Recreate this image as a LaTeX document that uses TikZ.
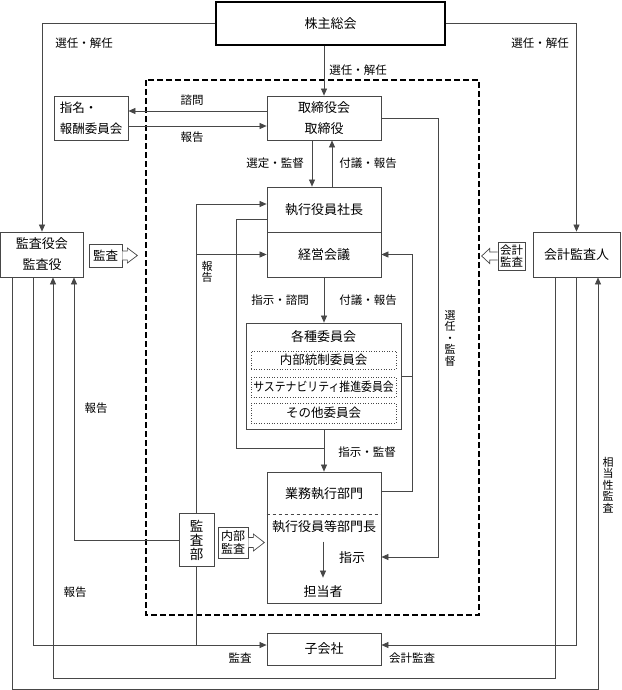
\documentclass[tikz,border=0pt]{standalone}
\usepackage{fontspec}
\usepackage{graphicx}
\setmainfont{Noto Sans CJK JP}
\usetikzlibrary{arrows.meta,calc}
\newcommand\bxfont{\fontsize{13}{21}\selectfont}
\newcommand\lbfont{\fontsize{11.5}{14}\selectfont}
\newcommand\smfont{\fontsize{11.5}{12.5}\selectfont}
\newcommand\vtfont{\fontsize{11}{11.5}\selectfont}
\begin{document}
\begin{tikzpicture}[x=1pt,y=-1pt,
  ln/.style={draw=black!72, line width=0.7pt},
  arr/.style={ln, -{Triangle[length=7pt,width=6pt]}},
  box/.style={draw=black!72, line width=0.8pt, inner sep=0pt, align=center, font=\bxfont},
  sbox/.style={draw=black!72, line width=0.7pt, inner sep=0pt, align=center, font=\smfont},
  dbox/.style={draw=black!72, line width=0.6pt, dotted, inner sep=0pt, font=\fontsize{12.5}{13}\selectfont},
  lbl/.style={inner sep=0pt, font=\lbfont},
  vlbl/.style={inner sep=0pt, align=center, font=\vtfont},
  blk/.style={draw=black!72, line width=0.7pt, fill=white},
]
\useasboundingbox (0,0) rectangle (621,690);
\fill[white] (0,0) rectangle (621,690);

% dashed frame
\draw[line width=1.2pt, dash pattern=on 6pt off 3pt] (146,80) rectangle (479,615);

% nodes
\node[box, draw=black, line width=1.3pt, minimum width=229pt, minimum height=43pt] (agm) at (330.5,23.5) {株主総会};
\node[box, align=left, minimum width=74pt, minimum height=44pt, font=\fontsize{12.5}{21}\selectfont] (nom) at (91,118) {指名・\\報酬委員会};
\node[box, minimum width=114pt, minimum height=44pt] (board) at (324,118) {取締役会\\取締役};
\node[box, minimum width=114pt, minimum height=45pt] (pres) at (324,209.5) {執行役員社長};
\node[box, minimum width=114pt, minimum height=45pt] (mgmt) at (324,254.5) {経営会議};
\node[box, minimum width=155pt, minimum height=106pt] (comm) at (323.5,376) {};
\node[inner sep=0pt, font=\bxfont] (commt) at (323.5,337) {各種委員会};
\node[dbox, minimum width=145pt, minimum height=18pt] (c1) at (323.5,360) {内部統制委員会};
\node[dbox, minimum width=145pt, minimum height=20pt] (c2) at (323.5,387) {\scalebox{0.87}[1]{サステナビリティ推進委員会}};
\node[dbox, minimum width=145pt, minimum height=20pt] (c3) at (323.5,413) {その他委員会};
\node[box, minimum width=114pt, minimum height=131pt] (biz) at (324,537.5) {};
\node[inner sep=0pt, font=\bxfont] (bt1) at (324,494) {業務執行部門};
\node[inner sep=0pt, font=\bxfont] (bt2) at (324,527) {執行役員等部門長};
\node[inner sep=0pt, font=\bxfont] (bt3) at (352,558) {指示};
\node[inner sep=0pt, font=\bxfont] (bt4) at (323,592) {担当者};
\node[box, minimum width=114pt, minimum height=32pt] (sub) at (324,649) {子会社};
\node[box, minimum width=83pt, minimum height=45pt] (kansa) at (42,254.5) {監査役会\\監査役};
\node[box, minimum width=87pt, minimum height=45pt] (auditor) at (576.5,254.5) {会計監査人};
\node[box, font=\fontsize{13.5}{14}\selectfont, minimum width=35pt, minimum height=53pt] (iad) at (196.5,540) {監\\査\\部};

% small boxes with block arrows
\node[sbox, font=\fontsize{12.5}{13}\selectfont, minimum width=33pt, minimum height=23pt] (kbox) at (105.5,255.5) {監査};
\draw[blk] ($(kbox.east)+(0,-4.5)$) -- ++(5,0) -- ++(0,-3) -- ($(kbox.east)+(15,0)$) -- ($(kbox.east)+(5,7.5)$) -- ++(0,-3) -- ($(kbox.east)+(0,4.5)$);
\node[sbox, minimum width=27pt, minimum height=28pt] (abox) at (511.5,256) {会計\\監査};
\draw[blk] ($(abox.west)+(0,-4)$) -- ++(-8,0) -- ++(0,-3.5) -- ($(abox.west)+(-16,0)$) -- ($(abox.west)+(-8,7.5)$) -- ++(0,-3.5) -- ($(abox.west)+(0,4)$);
\node[sbox, font=\fontsize{12}{13.5}\selectfont, minimum width=30pt, minimum height=31pt] (ibox) at (233,542.5) {内部\\監査};
\draw[blk] ($(ibox.east)+(0,-5)$) -- ++(5,0) -- ++(0,-3.5) -- ($(ibox.east)+(16,0)$) -- ($(ibox.east)+(5,8.5)$) -- ++(0,-3.5) -- ($(ibox.east)+(0,5)$);

% biz inner
\coordinate (bdash) at (324,514);
\draw[draw=black!72, line width=0.5pt, dashed] (biz.west |- bdash) -- (biz.east |- bdash);
\draw[arr] ($(biz.north)+(-1,70)$) -- ($(biz.north)+(-1,106)$);

% connectors
\draw[arr] (agm.west) -| (kansa.north);
\draw[arr] (agm.east) -| (auditor.north);
\draw[arr] (agm.south -| board.north) -- (board.north);
\draw[arr] ($(board.west)+(0,-7)$) -- ($(nom.east)+(0,-7)$);
\draw[arr] ($(nom.east)+(0,8)$) -- ($(board.west)+(0,8)$);
\coordinate (fR) at (438,557);
\draw[arr] (board.east) -| (fR) -- (fR -| biz.east);
\draw[arr] ($(board.south)+(-12,0)$) -- ($(pres.north)+(-12,0)$);
\draw[arr] ($(pres.north)+(8,0)$) -- ($(board.south)+(8,0)$);
\draw[arr] (mgmt.south) -- (mgmt.south |- comm.north);
\draw[arr] (comm.south -| biz.north) -- (biz.north);
\coordinate (k1) at (236,448);
\draw[ln] ($(pres.west)+(0,9.5)$) -| (k1) -- (k1 -| biz.north);
\coordinate (gR) at (412,491);
\draw[arr] (gR -| biz.east) -- (gR) |- (mgmt.east);
\draw[ln] (comm.east) -- (comm.east -| gR);
\coordinate (m1) at (196.5,204);
\draw[arr] (iad.north) -- (m1) -- (m1 -| pres.west);
\draw[arr] (iad.north |- mgmt.west) -- (mgmt.west);
\draw[arr] (iad.west) -| ($(kansa.south)+(32,0)$);
\coordinate (o1) at ($(sub.west)+(0,-4)$);
\draw[arr] ($(kansa.south)+(-9,0)$) |- (o1);
\draw[ln] (iad.south) -- (iad.south |- o1);
\draw[arr] (auditor.south) |- ($(sub.east)+(0,-4)$);
\coordinate (q1) at (555,678);
\coordinate (q2) at (53,678);
\draw[arr] (q1 |- auditor.south) -- (q1) -- (q2) -- (q2 |- kansa.south);
\coordinate (r1) at (12,689);
\coordinate (r2) at (598,689);
\draw[arr] (r1 |- kansa.south) -- (r1) -- (r2) -- (r2 |- auditor.south);

% labels
\node[lbl] (l1) at (84,43) {選任・解任};
\node[lbl] (l2) at (540,43) {選任・解任};
\node[lbl] (l3) at (358,70) {選任・解任};
\node[lbl] (l4) at (192,100) {諮問};
\node[lbl] (l5) at (192,137) {報告};
\node[lbl] (l6) at (275,163) {選定・監督};
\node[lbl] (l7) at (368,163) {付議・報告};
\node[lbl] (l8) at (280,300) {指示・諮問};
\node[lbl] (l9) at (368,300) {付議・報告};
\node[lbl] (l10) at (367,452) {指示・監督};
\node[vlbl] (l11) at (207,272) {報\\告};
\node[vlbl] (l12) at (450,338) {選\\任\\・\\監\\督};
\node[lbl] (l13) at (96,408) {報告};
\node[lbl] (l14) at (75,592) {報告};
\node[lbl] (l15) at (240,658) {監査};
\node[lbl] (l16) at (412,658) {会計監査};
\node[vlbl] (l17) at (608,485) {相\\当\\性\\監\\査};
\end{tikzpicture}
\end{document}
